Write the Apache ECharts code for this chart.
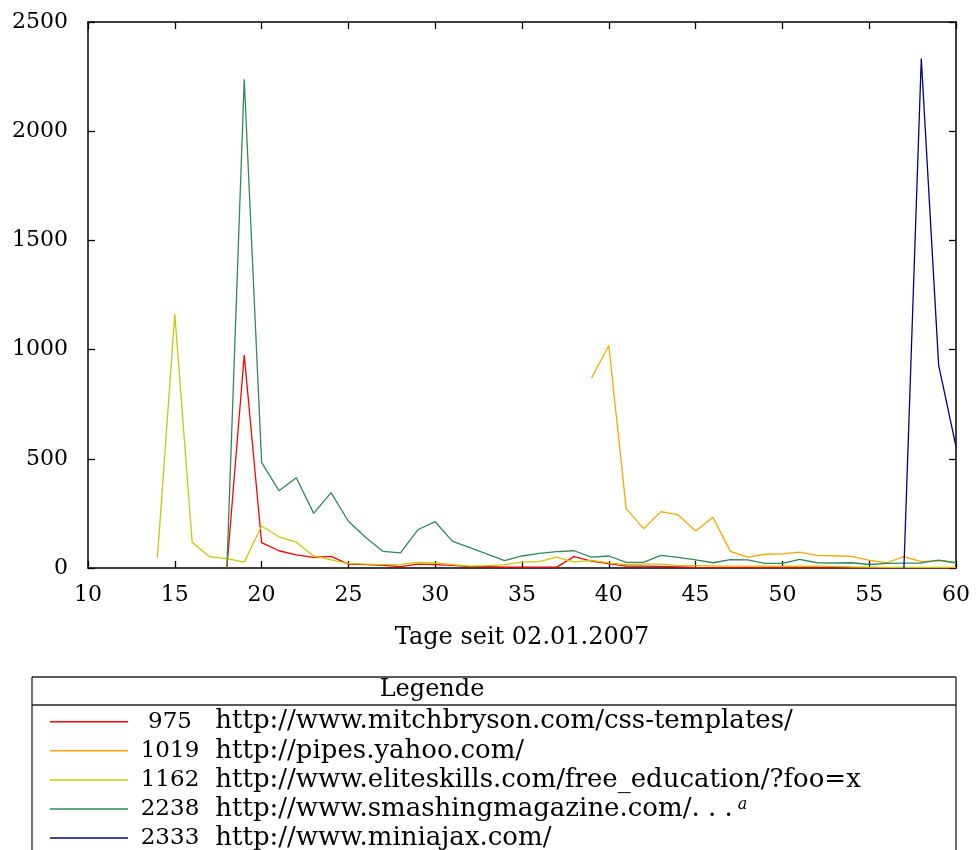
<!DOCTYPE html>
<html>
<head>
<meta charset="utf-8">
<script src="https://cdn.jsdelivr.net/npm/echarts@6/dist/echarts.min.js"></script>
<style>html,body{margin:0;padding:0;background:#fff}#c{width:978px;height:850px}</style>
</head>
<body>
<div id="c"></div>
<script>
const days = [14,15,16,17,18,19,20,21,22,23,24,25,26,27,28,29,30,31,32,33,34,35,36,37,38,39,40,41,42,43,44,45,46,47,48,49,50,51,52,53,54,55,56,57,58,59,60];
const mitchbryson = [null,null,null,null,0,975,116,79,60,49,53,18,15,12,6,18,15,12,6,6,4,4,4,4,52,31,20,9,9,7,5,3,2,2,2,2,2,1,1,1,1,1,1,1,1,1,1];
const pipes = [null,null,null,null,null,null,null,null,null,null,null,null,null,null,null,null,null,null,null,null,null,null,null,null,null,869,1019,273,180,258,243,169,232,76,50,63,65,73,58,56,53,35,24,52,29,34,24];
const eliteskills = [47,1162,118,52,43,27,192,143,118,55,37,21,18,15,17,26,23,15,9,11,15,27,29,50,27,35,23,15,18,18,12,11,10,9,9,8,8,9,8,7,5,4,3,3,3,3,3];
const smashing = [null,null,null,null,0,2238,484,354,413,250,345,214,140,76,69,175,212,122,93,64,34,55,67,75,79,50,55,26,26,58,49,37,24,38,37,21,21,39,24,23,24,16,21,22,23,36,24];
const miniajax = [null,null,null,null,null,null,null,null,null,null,null,null,null,null,null,null,null,null,null,null,null,null,null,null,null,null,null,null,null,null,null,null,null,null,null,null,null,null,null,null,null,null,null,0,2333,929,556];

const seriesIds = ['975','1019','1162','2238','2333'];
const seriesUrls = ['http://www.mitchbryson.com/css-templates/','http://pipes.yahoo.com/','http://www.eliteskills.com/free_education/?foo=x','http://www.smashingmagazine.com/. . .','http://www.miniajax.com/'];
const footnotes = ['','','','a',''];
const seriesValues = [mitchbryson, pipes, eliteskills, smashing, miniajax];
const seriesColors = ['#ff0000','#ffa500','#c8c800','#2e8b57','#00008b'];

const xTicks = {min:10, max:60, interval:5};
const yTicks = {min:0, max:2500, interval:500};
const xTitle = 'Tage seit 02.01.2007';
const legendTitle = 'Legende';

const FONT = 'DejaVu Serif';
const names = seriesIds.map((id,i)=>id+' '+seriesUrls[i]);

const series = seriesValues.map((vals,i)=>({
  name: names[i],
  type: 'line',
  xAxisIndex: 0, yAxisIndex: 0,
  data: days.map((d,j)=>[d, vals[j]]),
  showSymbol: false,
  connectNulls: false,
  lineStyle: {color: seriesColors[i], width: 1.3},
  itemStyle: {color: seriesColors[i]},
  animation: false
}));

const plain = v => String(v);
const axisLineStyle = {lineStyle:{color:'#000', width:1.5}};
const tickStyle = {show:true, inside:true, length:7, lineStyle:{color:'#000', width:1.3}};
const chart = echarts.init(document.getElementById('c'), null, {renderer:'canvas'});
chart.setOption({
  animation: false,
  backgroundColor: '#fff',
  grid: {left: 88, right: 22, top: 22, bottom: 282, outerBoundsMode: 'none', containLabel: false},
  xAxis: [{
    type:'value', position:'bottom', min:xTicks.min, max:xTicks.max, interval:xTicks.interval,
    axisLine: {show:true, onZero:false, ...axisLineStyle},
    axisTick: tickStyle,
    axisLabel: {color:'#000', fontFamily:FONT, fontSize:22, margin:16, formatter: plain},
    splitLine: {show:false},
    name: xTitle, nameLocation:'middle', nameGap: 58,
    nameTextStyle: {color:'#000', fontFamily:FONT, fontSize:24}
  },{
    type:'value', position:'top', min:xTicks.min, max:xTicks.max, interval:xTicks.interval,
    axisLine: {show:true, onZero:false, ...axisLineStyle},
    axisTick: tickStyle,
    axisLabel: {show:false}, splitLine:{show:false}
  }],
  yAxis: [{
    type:'value', position:'left', min:yTicks.min, max:yTicks.max, interval:yTicks.interval,
    axisLine: {show:true, onZero:false, ...axisLineStyle},
    axisTick: tickStyle,
    axisLabel: {color:'#000', fontFamily:FONT, fontSize:22, margin:20, formatter: plain},
    splitLine: {show:false}
  },{
    type:'value', position:'right', min:yTicks.min, max:yTicks.max, interval:yTicks.interval,
    axisLine: {show:true, onZero:false, ...axisLineStyle},
    axisTick: tickStyle,
    axisLabel: {show:false}, splitLine:{show:false}
  }],
  legend: {
    show: true,
    type: 'plain',
    orient: 'vertical',
    left: 50, top: 708.7,
    width: 900, height: 220,
    padding: 0,
    icon: 'rect',
    itemWidth: 78, itemHeight: 1.5,
    itemGap: 3.1,
    selectedMode: false,
    data: names,
    formatter: function(name){
      const i = names.indexOf(name);
      return '{n|' + seriesIds[i] + '}{u| ' + seriesUrls[i] + '}' + (footnotes[i] ? '{s| ' + footnotes[i] + '}' : '');
    },
    textStyle: {
      color:'#000', fontFamily:FONT, fontSize:26, lineHeight:24,
      rich: {
        n: {width: 74, align:'right', color:'#000', fontFamily:FONT, fontSize:23, lineHeight:24},
        u: {color:'#000', fontFamily:FONT, fontSize:26, lineHeight:24},
        s: {color:'#000', fontFamily:FONT, fontSize:16, fontStyle:'italic', verticalAlign:'top'}
      }
    }
  },
  graphic: [
    {type:'line', shape:{x1:32,y1:677,x2:956,y2:677}, style:{stroke:'#222', lineWidth:1.3}},
    {type:'line', shape:{x1:32,y1:705,x2:956,y2:705}, style:{stroke:'#222', lineWidth:1.3}},
    {type:'line', shape:{x1:32,y1:677,x2:32,y2:860}, style:{stroke:'#222', lineWidth:1.3}},
    {type:'line', shape:{x1:956,y1:677,x2:956,y2:860}, style:{stroke:'#222', lineWidth:1.3}},
    {type:'text', x:432, y:690, style:{text:legendTitle, fill:'#000', font:'24px "DejaVu Serif"', textAlign:'center', textVerticalAlign:'middle'}}
  ],
  series: series
});
</script>
</body>
</html>
